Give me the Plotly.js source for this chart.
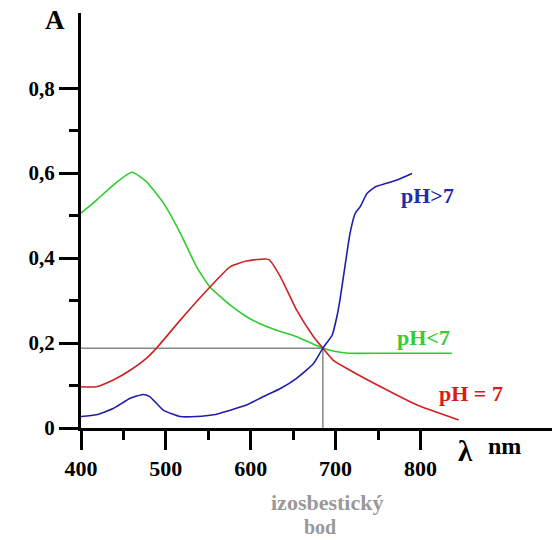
<!DOCTYPE html>
<html>
<head>
<meta charset="utf-8">
<script src="https://cdn.plot.ly/plotly-3.0.1.min.js"></script>
<style>html,body{margin:0;padding:0;background:#fff;}#chart{width:559px;height:540px;}</style>
</head>
<body>
<div id="chart"></div>
<script>
// Wavelength (nm) and absorbance values
const greenX = [400, 418, 438, 460, 477, 497, 517, 536, 552, 576, 595, 615, 635, 654, 685, 700, 715, 760, 837];
const greenY = [0.506, 0.536, 0.572, 0.602, 0.58, 0.53, 0.459, 0.38, 0.332, 0.289, 0.262, 0.242, 0.227, 0.215, 0.188, 0.180, 0.176, 0.176, 0.176];

const redX = [400, 418, 438, 458, 477, 489, 517, 536, 552, 576, 595, 621, 635, 654, 674, 685, 697, 717, 756, 796, 845];
const redY = [0.097, 0.097, 0.113, 0.136, 0.164, 0.188, 0.254, 0.297, 0.332, 0.38, 0.393, 0.397, 0.356, 0.278, 0.215, 0.188, 0.16, 0.136, 0.094, 0.054, 0.019];

const blueX = [400, 418, 438, 458, 473, 481, 497, 517, 536, 556, 576, 595, 615, 635, 654, 674, 685, 696, 701.5, 705, 711, 717, 723, 729, 737, 747, 760, 776, 790];
const blueY = [0.027, 0.031, 0.046, 0.07, 0.079, 0.074, 0.042, 0.027, 0.027, 0.031, 0.042, 0.054, 0.074, 0.093, 0.117, 0.152, 0.188, 0.219, 0.262, 0.30, 0.38, 0.458, 0.505, 0.521, 0.552, 0.568, 0.576, 0.587, 0.599];

const isoX = 685;
const isoY = 0.188;

const yTickVals = [0, 0.2, 0.4, 0.6, 0.8];
const yTickText = ["0", "0,2", "0,4", "0,6", "0,8"];
const xTickVals = [400, 500, 600, 700, 800];
const xTickText = ["400", "500", "600", "700", "800"];

const serif = "Liberation Serif, Times New Roman, serif";

const traces = [
  {x: greenX, y: greenY, mode: 'lines', line: {color: '#2ecc2e', width: 1.6, shape: 'spline', smoothing: 0.5}, hoverinfo: 'skip'},
  {x: redX, y: redY, mode: 'lines', line: {color: '#cc2222', width: 1.6, shape: 'spline', smoothing: 0.5}, hoverinfo: 'skip'},
  {x: blueX, y: blueY, mode: 'lines', line: {color: '#1e1ea8', width: 1.6, shape: 'spline', smoothing: 0.5}, hoverinfo: 'skip'}
];

const layout = {
  width: 559, height: 540,
  margin: {l: 81, r: 7, t: 13, b: 112},
  paper_bgcolor: '#fff', plot_bgcolor: '#fff',
  showlegend: false,
  font: {family: serif, color: '#000'},
  xaxis: {
    range: [400, 955], showgrid: false, zeroline: false,
    showline: true, linewidth: 3, linecolor: '#000',
    ticks: 'outside', ticklen: 19, tickwidth: 3, tickcolor: '#000',
    tickvals: xTickVals, ticktext: xTickText,
    tickfont: {family: serif, size: 22, color: '#000', weight: 'bold'},
    minor: {tickvals: [450, 550, 650, 750], ticks: 'outside', ticklen: 9, tickwidth: 3, tickcolor: '#000'}
  },
  yaxis: {
    range: [0, 0.977], showgrid: false, zeroline: false,
    showline: true, linewidth: 3, linecolor: '#000',
    ticks: 'outside', ticklen: 19, tickwidth: 3, tickcolor: '#000',
    tickvals: yTickVals, ticktext: yTickText,
    tickfont: {family: serif, size: 21, color: '#000', weight: 'bold'},
    minor: {tickvals: [0.1, 0.3, 0.5, 0.7], ticks: 'outside', ticklen: 9, tickwidth: 3, tickcolor: '#000'}
  },
  shapes: [
    {type: 'line', xref: 'x', yref: 'y', x0: 400, x1: isoX, y0: isoY, y1: isoY, line: {color: '#888', width: 1.5}, layer: 'below'},
    {type: 'line', xref: 'x', yref: 'y', x0: isoX, x1: isoX, y0: isoY, y1: -0.01, line: {color: '#888', width: 1.5}, layer: 'below'}
  ],
  annotations: [
    {text: 'A', xref: 'paper', yref: 'paper', x: -0.055, y: 0.982, xanchor: 'center', yanchor: 'middle', showarrow: false,
     font: {family: serif, size: 27, color: '#000', weight: 'bold'}},
    {text: 'λ', xref: 'x', yref: 'paper', x: 853, y: -0.055, xanchor: 'center', yanchor: 'middle', showarrow: false,
     font: {family: serif, size: 29, color: '#000', weight: 'bold'}},
    {text: 'nm', xref: 'x', yref: 'paper', x: 899, y: -0.043, xanchor: 'center', yanchor: 'middle', showarrow: false,
     font: {family: serif, size: 24, color: '#000', weight: 'bold'}},
    {text: 'izosbestický', xref: 'x', yref: 'paper', x: isoX + 5, y: -0.179, xanchor: 'center', yanchor: 'middle', showarrow: false,
     font: {family: serif, size: 22, color: '#999', weight: 'bold'}},
    {text: 'bod', xref: 'x', yref: 'paper', x: isoX - 3, y: -0.239, xanchor: 'center', yanchor: 'middle', showarrow: false,
     font: {family: serif, size: 20, color: '#999', weight: 'bold'}},
    {text: 'pH>7', xref: 'x', yref: 'y', x: 808, y: 0.548, xanchor: 'center', yanchor: 'middle', showarrow: false,
     font: {family: serif, size: 22, color: '#1e2ea8', weight: 'bold'}},
    {text: 'pH<7', xref: 'x', yref: 'y', x: 804, y: 0.214, xanchor: 'center', yanchor: 'middle', showarrow: false,
     font: {family: serif, size: 22, color: '#33cc33', weight: 'bold'}},
    {text: 'pH = 7', xref: 'x', yref: 'y', x: 859, y: 0.082, xanchor: 'center', yanchor: 'middle', showarrow: false,
     font: {family: serif, size: 22, color: '#dd1a1a', weight: 'bold'}}
  ]
};

Plotly.newPlot('chart', traces, layout, {displayModeBar: false, staticPlot: true});
</script>
</body>
</html>
